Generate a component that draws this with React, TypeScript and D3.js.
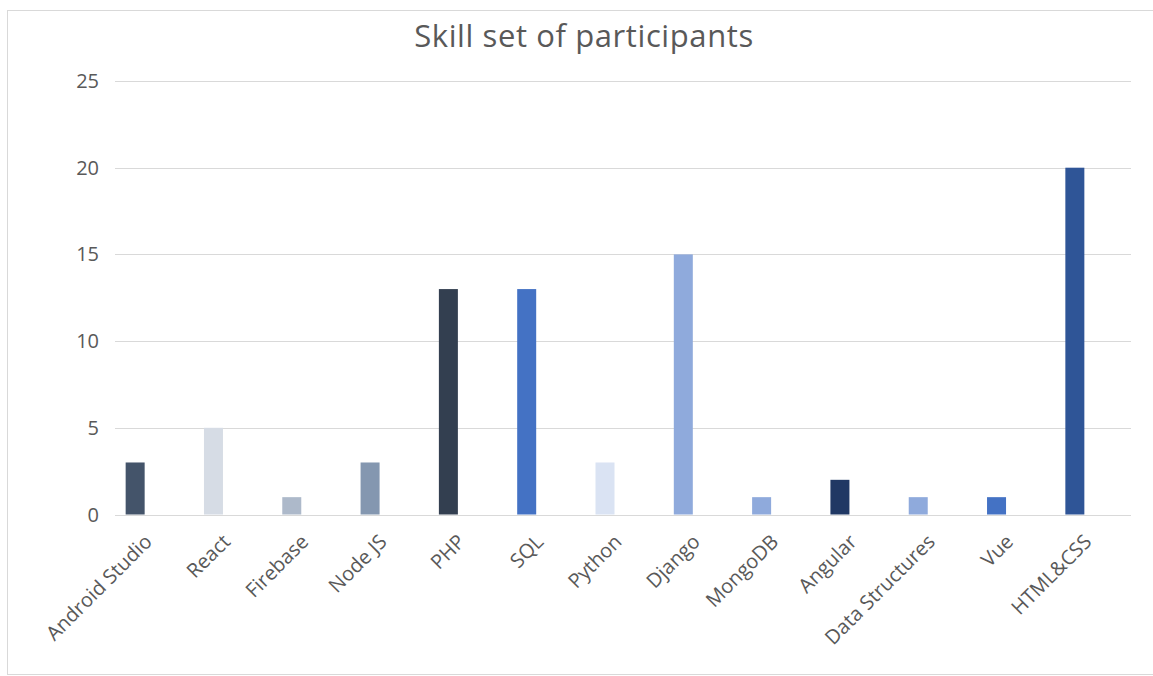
import React from "react";
import * as d3 from "d3";

const categories = ["Android Studio", "React", "Firebase", "Node JS", "PHP", "SQL", "Python", "Django", "MongoDB", "Angular", "Data Structures", "Vue", "HTML&CSS"];
const values = [3, 5, 1, 3, 13, 13, 3, 15, 1, 2, 1, 1, 20];
const barColors = ["#44546A", "#D6DCE5", "#ADB9CA", "#8497B0", "#333F50", "#4472C4", "#DAE3F3", "#8FAADC", "#8FAADC", "#203864", "#8FAADC", "#4472C4", "#2F5597"];
const yTicks = [0, 5, 10, 15, 20, 25];
const title = "Skill set of participants";

const W = 1153;
const H = 676;
const FONT = "'Open Sans', 'Noto Sans', sans-serif";

export default function App() {
  const x = d3.scaleBand<string>().domain(categories).range([96, 1114]).paddingInner(0).paddingOuter(0);
  const y = d3.scaleLinear().domain([0, 25]).range([514.5, 81]);
  const barW = 19;
  const gridX0 = 115;
  const gridX1 = 1131;

  return (
    <svg width={W} height={H} style={{ position: "absolute", left: 0, top: 0, background: "#fff" }}>
      <rect x={7.5} y={10.5} width={W} height={664} fill="#fff" stroke="#D9D9D9" strokeWidth={1} />
      <text x={584} y={47} textAnchor="middle" fontFamily={FONT} fontSize={31} letterSpacing={0.6} fill="#595959">
        {title}
      </text>
      {yTicks.map((t) => (
        <g key={t}>
          <line x1={gridX0} x2={gridX1} y1={Math.round(y(t)) + 0.5} y2={Math.round(y(t)) + 0.5} stroke="#D9D9D9" strokeWidth={1} />
          <text x={99} y={y(t)} dy="0.35em" textAnchor="end" fontFamily={FONT} fontSize={20} fill="#595959">
            {t}
          </text>
        </g>
      ))}
      {categories.map((c, i) => {
        const cx = (x(c) as number) + x.bandwidth() / 2;
        return (
          <g key={c}>
            <rect x={cx - barW / 2} y={y(values[i])} width={barW} height={y(0) - y(values[i])} fill={barColors[i]} />
            <text
              transform={`translate(${cx + 18},${543}) rotate(-45)`}
              textAnchor="end"
              fontFamily={FONT}
              fontSize={20}
              fill="#595959"
            >
              {c}
            </text>
          </g>
        );
      })}
    </svg>
  );
}
